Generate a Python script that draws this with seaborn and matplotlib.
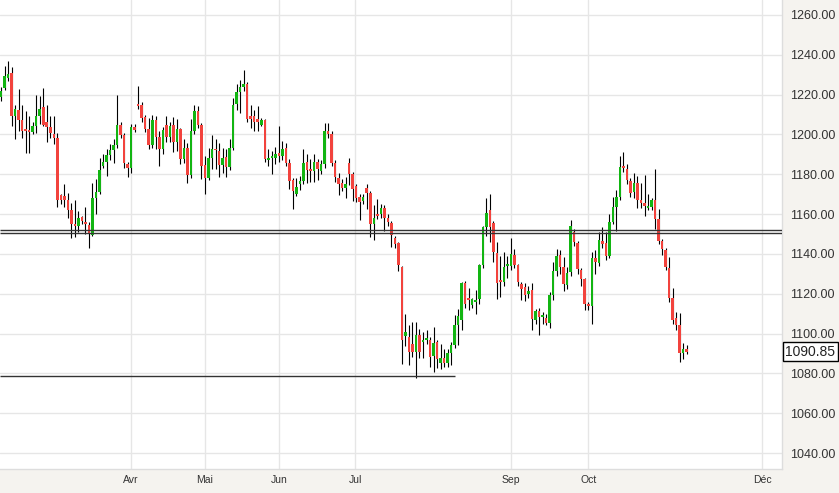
import seaborn as sns
import matplotlib.pyplot as plt
import pandas as pd
import numpy as np

# daily candles (open, high, low, close)
opens = [1219, 1223.3, 1228.3, 1230.8, 1209.5, 1212.5, 1207, 1202.7, 1202, 1201.2,
         1204, 1209.2, 1213.8, 1206.2, 1203.7, 1200, 1198, 1169.7, 1169.2, 1167.2,
         1162.3, 1155, 1154, 1158.3, 1156, 1154.5, 1149.5, 1168, 1171.3, 1184.2,
         1186.2, 1189.5, 1192.2, 1194.7, 1204.5, 1199.5, 1185, 1183.3, 1203.8, 1215.5,
         1215, 1208.7, 1202.5, 1194.5, 1207, 1198.8, 1192.5, 1204.5, 1198.8, 1204.5,
         1196.3, 1202.5, 1187.5, 1193.3, 1179.5, 1201.7, 1211.7, 1204.7, 1184.5, 1178.3,
         1188.3, 1192.8, 1191.7, 1184.5, 1188.8, 1183.8, 1193.3, 1215.5, 1221.2, 1223.8,
         1225.5, 1209.5, 1209.2, 1207.5, 1204.7, 1207, 1187.2, 1188.2, 1188.3, 1190.5,
         1189.2, 1193.3, 1185.5, 1177.2, 1170, 1175, 1176.7, 1186.2, 1182.5, 1181.7,
         1186.2, 1181.7, 1185, 1201.7, 1200, 1185.5, 1178.3, 1175.5, 1173.3, 1185.5,
         1180, 1174.2, 1168.7, 1166.7, 1173.3, 1170.5, 1155, 1160, 1160, 1163.3,
         1158, 1155.3, 1147.8, 1145.5, 1133.3, 1098.7, 1098.3, 1095, 1090.8, 1099.2,
         1095.8, 1096.7, 1096.7, 1088.7, 1095.8, 1085.3, 1087.8, 1085.3, 1090, 1094.2,
         1104.5, 1106.7, 1125.3, 1118, 1114.2, 1116, 1117.5, 1134.2, 1153.3, 1162,
         1155.3, 1140.3, 1127, 1125.8, 1134, 1134, 1139.7, 1134.2, 1125, 1123.3,
         1120, 1122, 1106.7, 1111.3, 1108.5, 1108, 1105.3, 1119.2, 1131.3, 1139.7,
         1133.3, 1124.2, 1130.8, 1150.8, 1145.3, 1131.7, 1127.5, 1115, 1113.8, 1138,
         1135.5, 1146.7, 1145.5, 1139.2, 1155.8, 1163.7, 1168.7, 1184.2, 1182.8, 1176.7,
         1171.3, 1175.5, 1167, 1165.8, 1163.3, 1163.7, 1167, 1157.5, 1146.7, 1142.2,
         1132.8, 1117.8, 1107.8, 1104.5, 1090.3, 1092.2]
highs = [1224, 1234.2, 1236.7, 1233.8, 1215, 1223, 1215, 1211.7, 1209.2, 1206,
         1220, 1219.2, 1223.3, 1214.7, 1209.5, 1209.2, 1200.5, 1170, 1175, 1170.8,
         1165.8, 1167.2, 1161.7, 1159, 1163.8, 1156, 1175.8, 1177.5, 1188, 1190.3,
         1192.5, 1195, 1197.5, 1219.7, 1206, 1200.8, 1186, 1205, 1205, 1224.2,
         1216.2, 1210, 1208.3, 1210, 1209.5, 1201.7, 1203.5, 1209.2, 1206, 1208.8,
         1207.5, 1203, 1197.5, 1195.8, 1207.5, 1215, 1214.2, 1205.5, 1189.2, 1193.3,
         1199.5, 1197.5, 1195.8, 1193.3, 1192.5, 1197.5, 1218.3, 1225.5, 1227.2, 1232.2,
         1226.2, 1215, 1212.5, 1214.2, 1208, 1207.5, 1192.5, 1191.7, 1193.8, 1204.2,
         1196.7, 1195.8, 1187.5, 1178.3, 1178.3, 1179, 1192.5, 1190, 1187.5, 1190,
         1187.5, 1187, 1205.8, 1205.8, 1201.7, 1187, 1180.8, 1177.5, 1178.8, 1188.3,
         1181, 1175, 1170, 1170, 1175, 1171.5, 1164.5, 1167.5, 1165, 1164.5,
         1160, 1156.7, 1149, 1146, 1134, 1110, 1104.2, 1105.8, 1105.8, 1102.2,
         1100.8, 1101.7, 1098.3, 1103.3, 1096.7, 1095, 1092.5, 1092.5, 1096, 1109.2,
         1112.5, 1125.8, 1126.2, 1122.8, 1118, 1121.7, 1135, 1154, 1168.3, 1170,
         1156.7, 1146.2, 1139.2, 1140.8, 1139, 1148, 1142.5, 1135, 1126, 1125.5,
         1124, 1125.5, 1112.5, 1112.8, 1111, 1110, 1121, 1135.8, 1142.5, 1142,
         1138.3, 1133.3, 1157, 1152.5, 1146.7, 1133, 1128, 1116, 1140.8, 1142,
         1151.2, 1153.3, 1150.8, 1160, 1168.8, 1172, 1189.2, 1191.3, 1185, 1178.3,
         1180.8, 1179.2, 1175.8, 1179.5, 1170, 1168.3, 1182.8, 1162.5, 1147.5, 1143,
         1138.3, 1122.8, 1110.8, 1110.5, 1095.5, 1094.2]
lows = [1217, 1222.5, 1227, 1204.2, 1197.8, 1201.7, 1198.3, 1190.8, 1190.5, 1200,
        1200.8, 1205, 1204.2, 1196.3, 1198, 1195.3, 1163.8, 1165, 1163.8, 1158.2,
        1148, 1148.7, 1150.8, 1155, 1150, 1143, 1149, 1160, 1170, 1183,
        1179.2, 1187, 1185.8, 1193, 1198, 1183.3, 1178.7, 1180.8, 1201, 1213,
        1206, 1201, 1192.5, 1193, 1192.5, 1184.2, 1190, 1196, 1196, 1191.3,
        1191.7, 1185, 1185.8, 1175.5, 1178, 1200, 1203, 1177.8, 1170, 1177,
        1182.5, 1182.5, 1178.8, 1180.8, 1178.8, 1182, 1192, 1212.5, 1210.8, 1222,
        1206, 1203.3, 1201.7, 1201.7, 1204, 1186, 1184.2, 1180, 1185, 1186,
        1187, 1184, 1172.8, 1162.5, 1169.2, 1172, 1175, 1175.8, 1176, 1176,
        1177, 1180, 1183, 1198, 1184, 1176, 1169.5, 1171.7, 1168.3, 1174.5,
        1166.7, 1166, 1157.2, 1165, 1162.5, 1148.3, 1147.2, 1157.5, 1158, 1151.7,
        1154, 1143.3, 1143, 1131.2, 1084.5, 1094, 1084.2, 1088, 1077.5, 1087.5,
        1087.5, 1095, 1083.3, 1080.5, 1082.5, 1082, 1083, 1083.3, 1084.2, 1093,
        1094.2, 1101.7, 1113, 1111.7, 1113, 1110, 1115, 1133, 1149.2, 1145.8,
        1136, 1117.5, 1118.3, 1124, 1128, 1132, 1133, 1124, 1116.7, 1116.2,
        1118, 1101.7, 1105, 1099.2, 1105, 1104.2, 1103, 1117, 1129, 1130,
        1121.2, 1122.2, 1129, 1144, 1130, 1124, 1111.7, 1112, 1105, 1130,
        1134, 1143, 1136.7, 1138, 1155, 1151.7, 1167, 1181, 1175, 1168.8,
        1168, 1163.3, 1163, 1158.8, 1162, 1162, 1152.5, 1145, 1139.5, 1132,
        1116, 1105, 1102, 1085.8, 1087.2, 1089.5]
closes = [1222, 1229.2, 1230.5, 1209.5, 1213, 1207, 1201.7, 1201.7, 1201.2, 1204,
          1209.2, 1212.8, 1204.5, 1203.7, 1200.7, 1198, 1167.2, 1167.2, 1167.2, 1162.3,
          1155, 1154, 1158, 1156.3, 1155, 1150, 1168, 1171, 1182.3, 1186.2,
          1189.5, 1192.2, 1194.7, 1204.5, 1199.5, 1185.5, 1183.3, 1203.8, 1202.2, 1214.5,
          1208.3, 1202.5, 1194.5, 1207, 1198.8, 1192.5, 1202, 1198.8, 1204.2, 1196.3,
          1202.5, 1187.5, 1193.3, 1179.5, 1201.7, 1211.7, 1204.7, 1184.2, 1178.3, 1188.3,
          1192.8, 1192, 1184.5, 1188, 1183.8, 1193.3, 1215, 1221.2, 1223.8, 1225.5,
          1207.8, 1207.8, 1206.3, 1206.3, 1207, 1187.5, 1188.2, 1189.2, 1190.3, 1189.2,
          1192.8, 1185.5, 1176.7, 1171.7, 1173.7, 1176.5, 1185.5, 1182, 1181.5, 1186.2,
          1182.5, 1185, 1201.7, 1200, 1185.8, 1178.8, 1175, 1173.3, 1175.3, 1180,
          1172.8, 1168.3, 1166.2, 1168.7, 1170.5, 1155, 1158, 1159, 1163.3, 1157.8,
          1155.8, 1149.7, 1145, 1134.5, 1096.7, 1100.8, 1090.8, 1091, 1099.2, 1090.8,
          1096.7, 1097.8, 1088.3, 1095.5, 1087.2, 1087.8, 1085.3, 1090, 1094.2, 1104.5,
          1108.7, 1125.3, 1115, 1117, 1117.5, 1117, 1134.2, 1153.3, 1160.3, 1153.3,
          1140.8, 1125.5, 1126, 1133.3, 1134.2, 1140, 1134.2, 1125.8, 1122.5, 1119.5,
          1121.3, 1107.5, 1111.3, 1108.3, 1109.2, 1105.3, 1119.2, 1131.3, 1139.2, 1133.3,
          1124.7, 1130.3, 1153.8, 1146.2, 1132.2, 1127.5, 1115, 1113.8, 1138, 1135.8,
          1147, 1145, 1139.2, 1155.8, 1163.7, 1168.7, 1183.8, 1183, 1177.2, 1170.8,
          1175.8, 1167, 1165.8, 1164.2, 1164.2, 1167, 1157.5, 1146.7, 1142.5, 1133.3,
          1117.8, 1106.7, 1104.2, 1090, 1092.2, 1090.85]

# month labels and where they sit (in trading-day index)
month_labels = ["Avr", "Mai", "Jun", "Jul", "Sep", "Oct", "Déc"]
month_pos = [37, 58, 79, 100.7, 145, 167, 216.4]

y_ticks = list(range(1040, 1261, 20))

# support / resistance lines: level, start index, end index
levels = [1152.0, 1150.5, 1078.7]
level_start = [-0.3, -0.3, -0.3]
level_end = [222.1, 222.1, 129.1]

last_price = 1090.85

df = pd.DataFrame({"open": opens, "high": highs, "low": lows, "close": closes})
df["t"] = np.arange(len(df))
df["up"] = df["close"] >= df["open"]

sns.set_theme(style="whitegrid")
plt.rcParams["font.family"] = ["Liberation Sans", "DejaVu Sans"]

fig = plt.figure(figsize=(8.39, 4.93), dpi=100, facecolor="#f5f3ef")
ax = fig.add_axes([0, 24 / 493, 782 / 839, 469 / 493])
ax.set_facecolor("white")

green = "#12b512"
red = "#f2433d"

# wicks
ax.vlines(df["t"], df["low"], df["high"], color="black", lw=0.8, zorder=2)

# bodies
body_low = df[["open", "close"]].min(axis=1)
body_h = (df["close"] - df["open"]).abs().clip(lower=0.7)
ax.bar(df["t"], body_h, bottom=body_low, width=0.72,
       color=np.where(df["up"], green, red), linewidth=0, zorder=3)

# horizontal levels
for lv, x0, x1 in zip(levels, level_start, level_end):
    ax.hlines(lv, x0, x1, color="#333333", lw=1.0, zorder=4)

ax.set_xlim(-0.3, 222.1)
ax.set_ylim(1032, 1267.5)

ax.set_xticks(month_pos)
ax.set_xticklabels(month_labels)
ax.set_yticks(y_ticks)
ax.set_yticklabels([f"{v:.2f}" for v in y_ticks])
ax.yaxis.tick_right()

ax.grid(True, color="#e6e6e6", lw=1.0)
ax.tick_params(axis="x", length=0, pad=4, labelsize=7.5, colors="#333333")
ax.tick_params(axis="y", length=0, pad=6, labelsize=9, colors="#333333")

for s in ["top", "left"]:
    ax.spines[s].set_visible(False)
for s in ["right", "bottom"]:
    ax.spines[s].set_color("#dddddd")
    ax.spines[s].set_linewidth(1.0)

# last price tag on the price axis
ax.text(1.004, last_price, f"{last_price:.2f}", transform=ax.get_yaxis_transform(),
        ha="left", va="center", fontsize=10, color="#222222", zorder=5,
        bbox=dict(boxstyle="square,pad=0.18", fc="white", ec="black", lw=1.0),
        clip_on=False)

plt.savefig("out.png", dpi=100, facecolor=fig.get_facecolor())
